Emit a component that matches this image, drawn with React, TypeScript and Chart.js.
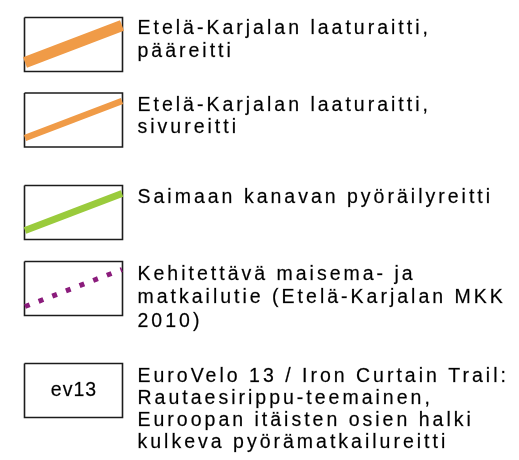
import React, { useEffect, useRef } from "react";
import { Chart, registerables } from "chart.js";

Chart.register(...registerables);

// ---- Legend content (data) ----
const routeLabels: string[][] = [
  ["Etelä-Karjalan laaturaitti,", "pääreitti"],
  ["Etelä-Karjalan laaturaitti,", "sivureitti"],
  ["Saimaan kanavan pyöräilyreitti"],
  ["Kehitettävä maisema- ja", "matkailutie (Etelä-Karjalan MKK", "2010)"],
  ["EuroVelo 13 / Iron Curtain Trail:", "Rautaesirippu-teemainen,", "Euroopan itäisten osien halki", "kulkeva pyörämatkailureitti"],
];
const routeBadges: string[] = ["", "", "", "", "ev13"];

// ---- Styles ----
const swatchColors: (string | null)[] = ["#f09b47", "#f09b47", "#9acb3c", "#8b1c7c", null];
const swatchWidths: number[] = [11, 6.5, 7, 5, 0];
const swatchDashes: number[][] = [[], [], [], [5, 9.6], []];

// ---- Layout ----
const W = 519;
const H = 460;
const BOX_LEFT = 24.5;
const BOX_RIGHT = 122.5;
const BOX_H = 54;
const rowTops = [17.5, 93, 185.5, 261.5, 363.5];
const textBaselineOffsets = [16, 17.5, 17.5, 18.5, 18];
const textLineHeights = [23.5, 22.5, 23, 23.3, 22.2];
const TEXT_X = 137.5;
const FONT = '19.5px "Liberation Sans", Arial, Helvetica, sans-serif';

export default function App() {
  const ref = useRef<HTMLCanvasElement | null>(null);

  useEffect(() => {
    document.body.style.margin = "0";
    const canvas = ref.current;
    if (!canvas) return;

    const datasets: any[] = [];
    rowTops.forEach((top, i) => {
      const bottom = top + BOX_H;
      // box outline
      datasets.push({
        label: "box" + i,
        data: [
          { x: BOX_LEFT, y: top },
          { x: BOX_RIGHT, y: top },
          { x: BOX_RIGHT, y: bottom },
          { x: BOX_LEFT, y: bottom },
          { x: BOX_LEFT, y: top },
        ],
        showLine: true,
        borderColor: "#1c1c1c",
        borderWidth: 1.6,
        borderJoinStyle: "miter",
        pointRadius: 0,
        fill: false,
        tension: 0,
        order: 2,
      });
      const color = swatchColors[i];
      if (color) {
        datasets.push({
          label: "route" + i,
          data: [
            { x: BOX_LEFT + 0.5, y: bottom - 9 },
            { x: BOX_RIGHT - 0.5, y: top + 8 },
          ],
          showLine: true,
          borderColor: color,
          borderWidth: swatchWidths[i],
          borderDash: swatchDashes[i],
          borderCapStyle: "butt",
          pointRadius: 0,
          fill: false,
          tension: 0,
          order: 1,
        });
      }
    });

    const textPlugin = {
      id: "legendText",
      afterDatasetsDraw(chart: any) {
        const ctx = chart.ctx as CanvasRenderingContext2D;
        const xs = chart.scales.x;
        const ys = chart.scales.y;
        ctx.save();
        ctx.fillStyle = "#000000";
        ctx.strokeStyle = "rgba(0,0,0,0.55)";
        ctx.lineWidth = 0.35;
        ctx.font = FONT;
        ctx.textBaseline = "alphabetic";
        ctx.textAlign = "left";
        (ctx as any).letterSpacing = "3px";
        routeLabels.forEach((lines, i) => {
          lines.forEach((line, j) => {
            const y = rowTops[i] + textBaselineOffsets[i] + j * textLineHeights[i];
            const px = xs.getPixelForValue(TEXT_X);
            const py = ys.getPixelForValue(y);
            ctx.fillText(line, px, py);
            ctx.strokeText(line, px, py);
          });
        });
        routeBadges.forEach((b, i) => {
          if (!b) return;
          (ctx as any).letterSpacing = "1px";
          ctx.font = '19.5px "Liberation Sans", Arial, Helvetica, sans-serif';
          ctx.textAlign = "center";
          const cx = (BOX_LEFT + BOX_RIGHT) / 2 + 0.5;
          const px = xs.getPixelForValue(cx);
          const py = ys.getPixelForValue(rowTops[i] + 32.3);
          ctx.fillText(b, px, py);
          ctx.strokeText(b, px, py);
        });
        ctx.restore();
      },
    };

    const chart = new Chart(canvas, {
      type: "scatter",
      data: { datasets },
      options: {
        animation: false,
        responsive: false,
        maintainAspectRatio: false,
        layout: { padding: 0 },
        plugins: { legend: { display: false }, tooltip: { enabled: false } },
        scales: {
          x: { type: "linear", min: 0, max: W, display: false },
          y: { type: "linear", min: 0, max: H, reverse: true, display: false },
        },
      },
      plugins: [textPlugin],
    });
    return () => chart.destroy();
  }, []);

  return (
    <div style={{ width: W, height: H, background: "#ffffff" }}>
      <canvas ref={ref} width={W} height={H} style={{ display: "block" }} />
    </div>
  );
}
